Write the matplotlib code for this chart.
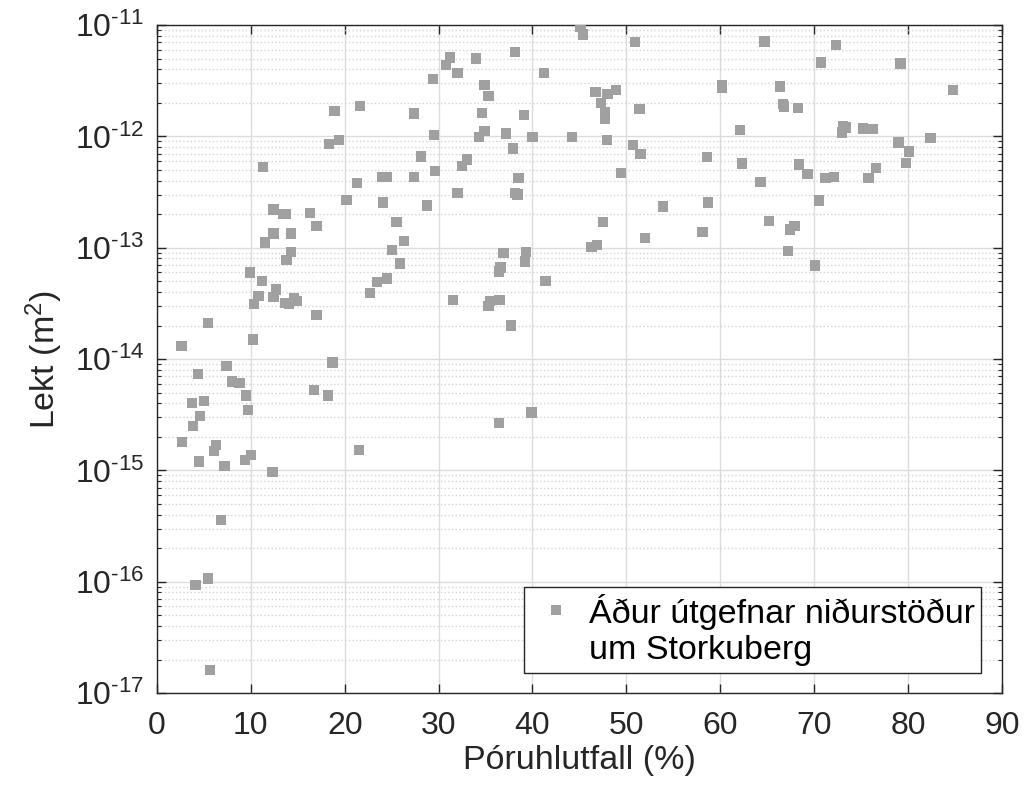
import matplotlib
matplotlib.use("Agg")
import matplotlib.pyplot as plt
from matplotlib.ticker import LogLocator, NullFormatter, MultipleLocator, FuncFormatter, FixedLocator
import numpy as np

plt.rcParams['font.family'] = ['Liberation Sans', 'DejaVu Sans']
plt.rcParams['mathtext.fontset'] = 'custom'
plt.rcParams['mathtext.rm'] = 'Liberation Sans'
plt.rcParams['mathtext.it'] = 'Liberation Sans'

# porosity (%) and permeability (m^2)
poro = [29.4, 18.9, 21.6, 27.4, 29.5, 18.3, 19.4, 11.3, 28.1, 27.4,
        29.6, 21.3, 24.0, 24.5, 20.2, 24.1, 28.8, 12.4, 13.4, 13.7,
        16.3, 25.5, 17.0, 12.4, 14.3, 11.5, 26.3, 25.0, 14.3, 13.8,
        25.9, 9.9, 11.2, 23.4, 24.5, 12.7, 10.8, 12.4, 22.7, 10.3,
        13.6, 14.1, 14.6, 14.9, 17.0, 5.4, 2.6, 10.2, 7.4, 18.7,
        4.4, 8.0, 8.8, 9.5, 3.7, 5.0, 16.7, 18.2, 4.6, 9.7,
        3.8, 2.7, 6.3, 6.1, 4.5, 7.2, 9.4, 10.0, 12.3, 21.5,
        6.8, 4.1, 5.4, 5.65, 36.4, 39.9, 45.1, 45.4, 50.9, 38.1,
        31.2, 30.8, 34.0, 32.0, 41.2, 34.9, 35.3, 46.7, 48.0, 48.9,
        47.3, 47.7, 47.7, 51.4, 34.6, 39.1, 34.9, 34.3, 37.2, 40.0,
        44.2, 47.9, 50.7, 51.5, 37.9, 58.6, 33.0, 32.5, 49.4, 38.5,
        32.0, 38.1, 38.4, 53.9, 58.7, 47.5, 52.0, 58.1, 46.3, 46.9,
        36.9, 39.3, 39.2, 36.6, 36.4, 41.4, 31.5, 35.5, 35.3, 36.5,
        37.7, 64.7, 72.3, 70.7, 79.2, 84.8, 60.2, 60.2, 66.4, 66.7,
        66.8, 68.3, 62.1, 73.1, 73.4, 73.0, 75.2, 76.3, 82.4, 79.0,
        80.1, 79.8, 62.3, 68.4, 69.3, 71.2, 72.1, 75.8, 76.6, 64.3,
        70.5, 65.2, 67.4, 67.9, 67.2, 70.1]
lekt = [3.27e-12, 1.69e-12, 1.87e-12, 1.60e-12, 1.03e-12, 8.5e-13, 9.3e-13, 5.3e-13, 6.6e-13, 4.3e-13,
        4.9e-13, 3.8e-13, 4.3e-13, 4.3e-13, 2.7e-13, 2.55e-13, 2.4e-13, 2.2e-13, 2.0e-13, 2.0e-13,
        2.06e-13, 1.71e-13, 1.56e-13, 1.34e-13, 1.34e-13, 1.11e-13, 1.15e-13, 9.6e-14, 9.2e-14, 7.7e-14,
        7.2e-14, 6.0e-14, 5.0e-14, 4.9e-14, 5.3e-14, 4.2e-14, 3.7e-14, 3.6e-14, 3.9e-14, 3.1e-14,
        3.2e-14, 3.1e-14, 3.5e-14, 3.3e-14, 2.5e-14, 2.1e-14, 1.3e-14, 1.5e-14, 8.6e-15, 9.3e-15,
        7.3e-15, 6.3e-15, 6.1e-15, 4.7e-15, 4.0e-15, 4.2e-15, 5.3e-15, 4.7e-15, 3.1e-15, 3.5e-15,
        2.5e-15, 1.8e-15, 1.7e-15, 1.5e-15, 1.2e-15, 1.1e-15, 1.24e-15, 1.37e-15, 9.7e-16, 1.53e-15,
        3.6e-16, 9.4e-17, 1.07e-16, 1.6e-17, 2.65e-15, 3.3e-15, 9.7e-12, 8.2e-12, 7.0e-12, 5.7e-12,
        5.1e-12, 4.4e-12, 5.0e-12, 3.7e-12, 3.7e-12, 2.9e-12, 2.3e-12, 2.5e-12, 2.4e-12, 2.6e-12,
        1.98e-12, 1.66e-12, 1.45e-12, 1.77e-12, 1.61e-12, 1.55e-12, 1.12e-12, 9.9e-13, 1.06e-12, 9.9e-13,
        9.9e-13, 9.3e-13, 8.4e-13, 6.9e-13, 7.8e-13, 6.5e-13, 6.2e-13, 5.4e-13, 4.7e-13, 4.2e-13,
        3.1e-13, 3.1e-13, 3.0e-13, 2.35e-13, 2.55e-13, 1.7e-13, 1.22e-13, 1.38e-13, 1.02e-13, 1.05e-13,
        9.0e-14, 9.2e-14, 7.5e-14, 6.65e-14, 6.1e-14, 5.0e-14, 3.4e-14, 3.3e-14, 3.0e-14, 3.4e-14,
        2.0e-14, 7.1e-12, 6.6e-12, 4.6e-12, 4.5e-12, 2.6e-12, 2.9e-12, 2.75e-12, 2.8e-12, 1.95e-12,
        1.85e-12, 1.79e-12, 1.14e-12, 1.24e-12, 1.2e-12, 1.08e-12, 1.18e-12, 1.16e-12, 9.7e-13, 8.8e-13,
        7.3e-13, 5.8e-13, 5.7e-13, 5.6e-13, 4.6e-13, 4.2e-13, 4.3e-13, 4.25e-13, 5.2e-13, 3.9e-13,
        2.66e-13, 1.73e-13, 1.46e-13, 1.57e-13, 9.4e-14, 6.9e-14]

y_ticks = [1e-17, 1e-16, 1e-15, 1e-14, 1e-13, 1e-12, 1e-11]

label = "Áður útgefnar niðurstöður\num Storkuberg"
txt = '#262626'


def pow10(v, pos):
    # MATLAB style label with a short hyphen in the exponent
    n = int(round(np.log10(v)))
    return r'$\mathdefault{10^{\text{-}%d}}$' % abs(n) if n < 0 else r'$\mathdefault{10^{%d}}$' % n


fig = plt.figure(figsize=(10.26, 7.87), dpi=100)
ax = fig.add_axes([0.153, 0.1194, 0.8235, 0.8488])

ax.scatter(poro, lekt, marker='s', s=55, color='#a0a0a0', edgecolors='none',
           label=label, zorder=3)

ax.set_yscale('log')
ax.set_xlim(0, 90)
ax.set_ylim(1e-17, 1e-11)
ax.xaxis.set_major_locator(MultipleLocator(10))
ax.yaxis.set_major_locator(FixedLocator(y_ticks))
ax.yaxis.set_major_formatter(FuncFormatter(pow10))
ax.yaxis.set_minor_locator(LogLocator(base=10, subs=range(2, 10), numticks=100))
ax.yaxis.set_minor_formatter(NullFormatter())

ax.grid(True, which='major', color='#dcdcdc', linewidth=1.0, zorder=0)
ax.yaxis.grid(True, which='minor', color='#d4d4d4', linestyle=':', linewidth=1.0, zorder=0)
ax.set_axisbelow(True)

ax.tick_params(which='both', direction='in', top=True, right=True,
               colors=txt, labelsize=23, labelcolor=txt)
ax.tick_params(which='major', length=6.5, width=1)
ax.tick_params(which='minor', length=3, width=0.8)
ax.tick_params(axis='x', pad=13)
ax.tick_params(axis='y', pad=9)
for sp in ax.spines.values():
    sp.set_color(txt)
    sp.set_linewidth(1.0)

ax.set_xlabel('Póruhlutfall (%)', fontsize=24.5, color=txt, labelpad=3)
ax.set_ylabel('Lekt (m$^2$)', fontsize=24.5, color=txt, labelpad=7)

leg = ax.legend(loc='lower right', fontsize=24.5, fancybox=False,
                framealpha=1, edgecolor=txt, borderaxespad=0.6,
                handlelength=1.5, handletextpad=0.2, borderpad=0.2,
                scatteryoffsets=[1.35])
leg.get_frame().set_linewidth(1.0)

fig.savefig('out.png', dpi=100)
